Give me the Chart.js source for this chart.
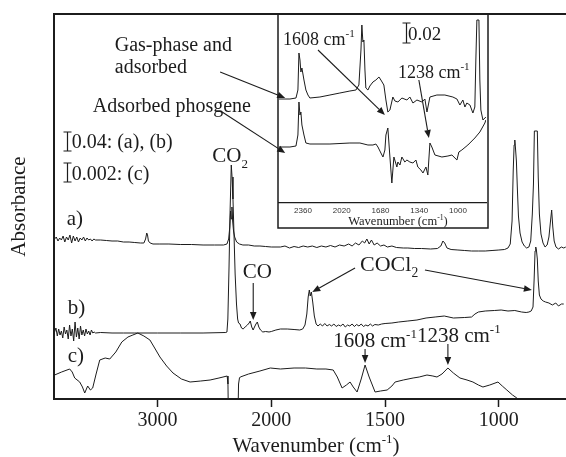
<!DOCTYPE html>
<html><head><meta charset="utf-8">
<script src="https://cdn.jsdelivr.net/npm/chart.js@4.4.0/dist/chart.umd.min.js"></script>
<style>
html,body{margin:0;padding:0;background:#fff;}
#wrap{position:relative;width:566px;height:457px;overflow:hidden;background:#fff;}
#main{position:absolute;left:0;top:0;z-index:2;}
#inset{position:absolute;left:277px;top:13px;z-index:1;}
</style></head><body>
<div id="wrap">
<canvas id="inset" width="212" height="216"></canvas>
<canvas id="main" width="566" height="457"></canvas>
</div>
<script>
// ---------------- DATA (wavenumber in cm-1, offset absorbance in arbitrary units) ----------------
const xTickValues = [3000, 2000, 1500, 1000];
const insetTickValues = [2360, 2020, 1680, 1340, 1000];

// (a) gas-phase + adsorbed
const wnA = [3905,3890,3875,3860,3845,3830,3815,3800,3785,3770,3755,3740,3725,3710,3695,3680,3665,3650,3635,3620,3605,3590,3575,3560,3545,
 3500,3450,3400,3350,3300,3250,3200,3150,3120,3105,3095,3088,3080,3065,3040,2980,2900,2800,2700,2600,2500,2420,2390,2375,2365,2358,2352,2346,2340,2332,2322,2305,2280,2250,2200,2150,2100,2050,2000,1960,
 1940,1920,1900,1880,1860,1840,1820,1800,1780,1760,1740,1720,1700,1680,1660,1645,1630,1615,1600,1590,1580,1570,1560,1548,1535,1520,1505,1490,1470,1450,1420,1400,1370,1340,1300,1270,1255,1246,1238,1228,1210,1180,1150,1120,1090,1060,1030,1000,975,960,950,942,937,933,930,927,923,919,914,907,898,888,878,868,860,853,848,844,831,827,822,815,806,797,788,780,774,768,763,757,749,738,725,715,706];
const absA = [160,162,158,161,159,163,157,162,159,164,156,163,158,162,157,161,159,162,158,161,159,160,158,160,159,
 159,158.5,158,158,157,157,156.5,156,156,160,166,164,158,156,155,155,155,154.5,154.5,154,154,154,155,160,172,188,180,192,178,168,162,157,155,154,154,153,153,152.5,152,152,
 153,151,152.5,151.5,153,152,153,151.5,153,152,153.5,152,154,153,155,153,156,154,158,156,160,155,159,154,156,153,154,152,153,151.5,151,151,150.5,150.5,150,150.5,153,158,156,151,149.5,149,148.5,148,148,148,148.5,149,149.5,151,155,178,228,254,259,251,238,212,183,166,157,153,151,152,158,185,215,268,268,222,185,165,156,152,154,162,176,189,172,158,152,150,152,151,152];

// (b) adsorbed phosgene
const wnB = [3905,3893,3881,3869,3857,3845,3833,3821,3809,3797,3785,3773,3761,3749,3737,3725,3713,3701,3689,3677,3665,3653,3641,3629,3617,3605,3593,3581,3569,3557,3545,
 3500,3400,3300,3200,3000,2800,2600,2400,2390,2382,2372,2362,2352,2345,2337,2328,2318,2306,2296,2288,2275,2262,2248,2230,2210,2195,2185,2172,2160,2148,2135,2123,2110,2095,2075,2050,2020,2000,1980,1960,1930,1900,1875,1862,1852,1844,1838,1833,1829,1824,1818,1811,1803,1795,
 1785,1775,1765,1755,1745,1735,1725,1715,1705,1695,1685,1675,1665,1655,1645,1635,1625,1615,1605,1595,1585,1575,1565,1555,1545,1530,1515,1500,1470,1440,1400,1360,1320,1280,1240,1200,1150,1120,1105,1090,1060,1020,990,960,930,900,880,868,858,850,845,841,838,835,831,827,822,815,805,795,780,765,750,738,725,715,706];
const absB = [67,71,63,70,64,68,61,72,65,69,60,74,63,70,58,77,62,71,60,73,64,69,63,70,65,68,64,69,66,67,66,
 66.5,66,66,66,66,66,66,66.5,67,80,130,190,234,222,200,165,125,95,80,76,75,71,70,72,74,76,78,72,69,72,75,77,72,69,67,67.5,67,67.5,69,70,70,69.5,69,70,74,85,102,109,103,107,97,83,75,73,
 75,73,75.5,73,74.5,73,75,72.5,74,73,75,72,74,73,75,72.5,74.5,73,75,72.5,74,73,75,73,74.5,74,75,75.5,76,77,78,79,81,82,83,81,81.5,82,85,87,88,88.5,89,88,88.5,87,86.5,87,88,92,120,148,152,149,140,118,104,100,98,97,96,94,96,93,95,95];

// (c) difference spectrum (x0.05 scale)
const wnC = [3905,3843,3772,3750,3728,3684,3660,3640,3614,3590,3570,3540,3508,3460,3420,3367,3314,3260,3217,3173,3120,3067,3020,2979,2920,2864,2790,2714,2620,2538,2460,2388,2381,2376,2295,2288,2280,2273,2200,2100,2009,1960,1900,1850,1800,1760,1728,1710,1689,1670,1654,1640,1623,1605,1588,1570,1544,1520,1491,1470,1456,1420,1377,1350,1316,1290,1272,1250,1224,1200,1171,1140,1114,1090,1070,1040,1004,985,965,940,921,912];
const absC = [24,27,30,27,21,17,12,6,13,9,11,25,39,41,40,47,57,62,64,66,63,59,50,42,33,26,20,17,18,19,21,23,15,-30,-30,15,21,22,25,28,31,30,31,31,30,30,29,22,11,14,17,12,7,20,34,22,7,8,9,13,17,19,21,22,24,23,22,25,31,26,21,19,17,14,12,14,17,13,9,4,1,-2];

// Inset: gas-phase + adsorbed, and adsorbed phosgene
const insetWnGas = [2570,2474,2421,2404,2395,2386,2378,2369,2351,2334,2316,2299,2211,2123,2036,1948,1895,1869,1851,1843,1834,1825,1816,1808,1790,1773,1746,1720,1693,1676,1650,1632,1615,1597,1571,1553,1527,1492,1448,1422,1395,1360,1316,1290,1272,1246,1185,1115,1045,1009,983,957,939,922,895,869,852,843,834,816,808,799,781,755];
const insetAbsGas = [104,104,105,113,150,143,131,135,123,113,108,105,106,108,110,112,113,118,153,178,161,163,133,115,113,117,121,123,126,123,118,103,91,93,106,102,101,105,103,106,100,103,101,104,91,106,108,108,106,104,98,103,96,100,98,90,96,143,183,183,123,93,83,86];
const insetWnAds = [2570,2474,2421,2404,2395,2386,2378,2369,2351,2334,2299,2123,1948,1860,1790,1746,1720,1702,1676,1658,1641,1632,1615,1597,1580,1562,1536,1527,1509,1492,1466,1448,1422,1395,1369,1352,1325,1307,1281,1264,1246,1229,1202,1141,1088,1053,1009,992,966,913,852,808,764,755];
const insetAbsAds = [56,56,57,68,101,88,91,78,68,60,59,59,60,60,58,58,59,56,50,46,53,68,75,46,20,46,36,41,38,46,41,43,41,40,43,36,33,30,36,28,60,56,48,46,47,48,43,51,53,58,65,71,80,83];

// ---------------- annotations (anchored in data coordinates) ----------------
const mainLabels = [
  {parts:[['a)',0]], wn:3799, ab:174, size:21},
  {parts:[['b)',0]], wn:3790, ab:85, size:21},
  {parts:[['c)',0]], wn:3790, ab:37, size:21},
  {parts:[['0.04: (a), (b)',0]], wn:3755, ab:251, size:20},
  {parts:[['0.002: (c)',0]], wn:3755, ab:219, size:20},
  {parts:[['Gas-phase and',0]], wn:3376, ab:348, size:20},
  {parts:[['adsorbed',0]], wn:3376, ab:326, size:20},
  {parts:[['Adsorbed phosgene',0]], wn:3570, ab:287, size:20},
  {parts:[['CO',0],['2',1]], wn:2362, ab:237, size:21, align:'center'},
  {parts:[['CO',0]], wn:2123, ab:121, size:21, align:'center'},
  {parts:[['COCl',0],['2',1]], wn:1610, ab:128, size:22},
  {parts:[['1608 cm',0],['-1',2]], wn:1728, ab:52, size:21},
  {parts:[['1238 cm',0],['-1',2]], wn:1360, ab:57, size:21}
];
const mainBars = [{wn:3799, top:267, bot:248}, {wn:3799, top:236, bot:217}];
const mainArrows = [
  {from:[2450,327], to:[1939,301]},
  {from:[2432,287], to:[1939,246]},
  {from:[2159,116], to:[2159,79]},
  {from:[1632,131], to:[1820,107]},
  {from:[1325,129], to:[855,109]},
  {from:[1588,50], to:[1588,36]},
  {from:[1224,55], to:[1224,34]}
];
const insetLabels = [
  {parts:[['1608 cm',0],['-1',2]], wn:2535, ab:158, size:18},
  {parts:[['0.02',0]], wn:1439, ab:163, size:19},
  {parts:[['1238 cm',0],['-1',2]], wn:1527, ab:125, size:18}
];
const insetBars = [{wn:1457, top:180, bot:160}];
const insetArrows = [{from:[2228,153], to:[1641,88]}, {from:[1343,123], to:[1255,65]}];

// ---------------- helpers ----------------
const SERIF = '"Liberation Serif", "Times New Roman", serif';
const INK = '#1c1c1c';
function pts(xs, ys){ return xs.map((x,i)=>({x:x, y:ys[i]})); }
function rich(ctx, parts, x, y, size, align){
  const segs = parts.map(([t,m]) => {
    const fs = m ? size*0.62 : size;
    ctx.font = fs + 'px ' + SERIF;
    return {t, m, fs, w: ctx.measureText(t).width};
  });
  const total = segs.reduce((s,g)=>s+g.w,0);
  let cx = align === 'center' ? x - total/2 : x;
  ctx.textAlign = 'left'; ctx.textBaseline = 'alphabetic';
  for (const g of segs){
    ctx.font = g.fs + 'px ' + SERIF;
    const dy = g.m === 1 ? size*0.28 : (g.m === 2 ? -size*0.42 : 0);
    ctx.fillText(g.t, cx, y + dy);
    cx += g.w;
  }
}
function arrow(ctx, x1, y1, x2, y2){
  const a = Math.atan2(y2-y1, x2-x1), L = 8, W = 3.3;
  const bx = x2 - L*Math.cos(a), by = y2 - L*Math.sin(a);
  ctx.beginPath(); ctx.moveTo(x1,y1); ctx.lineTo(bx,by); ctx.lineWidth = 1.1; ctx.stroke();
  ctx.beginPath(); ctx.moveTo(x2,y2);
  ctx.lineTo(bx + W*Math.sin(a), by - W*Math.cos(a));
  ctx.lineTo(bx - W*Math.sin(a), by + W*Math.cos(a));
  ctx.closePath(); ctx.fill();
}
function bar(ctx, x, yt, yb){
  ctx.lineWidth = 1.2; ctx.beginPath();
  ctx.moveTo(x, yt); ctx.lineTo(x, yb);
  ctx.moveTo(x-4, yt); ctx.lineTo(x+4, yt);
  ctx.moveTo(x-4, yb); ctx.lineTo(x+4, yb);
  ctx.stroke();
}
function drawNotes(chart, labels, bars, arrows){
  const ctx = chart.ctx, xs = chart.scales.x, ys = chart.scales.y;
  const X = v => xs.getPixelForValue(v), Y = v => ys.getPixelForValue(v);
  ctx.save(); ctx.fillStyle = INK; ctx.strokeStyle = INK;
  labels.forEach(l => rich(ctx, l.parts, X(l.wn), Y(l.ab), l.size, l.align));
  bars.forEach(b => bar(ctx, Math.round(X(b.wn))+0.5, Y(b.top), Y(b.bot)));
  arrows.forEach(a => arrow(ctx, X(a.from[0]), Y(a.from[1]), X(a.to[0]), Y(a.to[1])));
  ctx.restore();
}

// ---------------- FTIR axis with 2:1 scale change at 2000 cm-1 ----------------
const BREAK_WN = 2000, LOW_STRETCH = 2;
class BrokenLinearScale extends Chart.LinearScale {
  _warp(v){ return v <= BREAK_WN ? (v - this.min)*LOW_STRETCH : (BREAK_WN - this.min)*LOW_STRETCH + (v - BREAK_WN); }
  getPixelForValue(value){
    if (value === null || value === undefined || Number.isNaN(value)) return NaN;
    return this.getPixelForDecimal(this._warp(value) / this._warp(this.max));
  }
  getValueForPixel(pixel){
    const d = this.getDecimalForPixel(pixel) * this._warp(this.max);
    const tb = (BREAK_WN - this.min)*LOW_STRETCH;
    return d <= tb ? this.min + d/LOW_STRETCH : BREAK_WN + (d - tb);
  }
}
BrokenLinearScale.id = 'brokenLinear';
BrokenLinearScale.defaults = {};
Chart.register(BrokenLinearScale);

const lineStyle = {borderColor: INK, borderWidth: 1, pointRadius: 0, tension: 0, fill: false};

// ---------------- main chart ----------------
new Chart(document.getElementById('main'), {
  type: 'line',
  data: {datasets: [
    Object.assign({label:'a', data: pts(wnA, absA)}, lineStyle),
    Object.assign({label:'b', data: pts(wnB, absB)}, lineStyle),
    Object.assign({label:'c', data: pts(wnC, absC)}, lineStyle)
  ]},
  options: {
    responsive: false, animation: false, devicePixelRatio: 1,
    layout: {padding: {top: 14, right: 0, left: 0, bottom: 0}},
    plugins: {legend: {display: false}, tooltip: {enabled: false}},
    scales: {
      x: {
        type: 'brokenLinear', reverse: true, min: 705, max: 3910, bounds: 'data',
        afterFit: s => { s.height = 58; },
        afterBuildTicks: s => { s.ticks = xTickValues.map(v => ({value: v})); },
        grid: {drawOnChartArea: false, drawTicks: true, tickLength: 8, tickColor: INK, tickWidth: 1.5},
        border: {display: true, color: INK, width: 2},
        ticks: {font: {family: SERIF, size: 20}, color: INK, padding: 2, maxRotation: 0, autoSkip: false,
                callback: v => String(v)}
      },
      xTop: {
        type: 'linear', position: 'top', min: 705, max: 3910,
        afterFit: s => { s.height = 0; },
        grid: {display: false}, ticks: {display: false},
        border: {display: true, color: INK, width: 2}
      },
      y: {
        type: 'linear', min: 0, max: 385,
        afterFit: s => { s.width = 54; },
        grid: {display: false}, ticks: {display: false},
        border: {display: true, color: INK, width: 2}
      }
    }
  },
  plugins: [{
    id: 'mainNotes',
    afterDraw(chart){
      drawNotes(chart, mainLabels, mainBars, mainArrows);
      const ctx = chart.ctx, a = chart.chartArea;
      ctx.save(); ctx.fillStyle = INK;
      rich(ctx, [['Wavenumber (cm',0],['-1',2],[')',0]], 316, 452, 21, 'center');
      ctx.translate(25, (a.top + a.bottom)/2);
      ctx.rotate(-Math.PI/2);
      rich(ctx, [['Absorbance',0]], 0, 0, 21, 'center');
      ctx.restore();
    }
  }]
});

// ---------------- inset chart ----------------
new Chart(document.getElementById('inset'), {
  type: 'line',
  data: {datasets: [
    Object.assign({label:'gas+ads', data: pts(insetWnGas, insetAbsGas)}, lineStyle),
    Object.assign({label:'ads', data: pts(insetWnAds, insetAbsAds)}, lineStyle)
  ]},
  options: {
    responsive: false, animation: false, devicePixelRatio: 1,
    layout: {padding: {top: 2, left: 2, right: 3, bottom: 0}},
    plugins: {legend: {display: false}, tooltip: {enabled: false}},
    scales: {
      x: {
        type: 'linear', reverse: true, min: 754, max: 2570, bounds: 'data',
        afterFit: s => { s.height = 26; },
        afterBuildTicks: s => { s.ticks = insetTickValues.map(v => ({value: v})); },
        grid: {drawOnChartArea: false, drawTicks: false},
        border: {display: true, color: INK, width: 1.3},
        ticks: {font: {family: '"Liberation Sans", sans-serif', size: 8}, color: '#333', padding: 3, maxRotation: 0, autoSkip: false,
                callback: v => String(v)}
      },
      y: {type: 'linear', min: 0, max: 188, display: false}
    }
  },
  plugins: [{
    id: 'insetNotes',
    beforeDraw(chart){
      const ctx = chart.ctx; ctx.save(); ctx.fillStyle = '#fff';
      ctx.fillRect(0, 0, chart.width, chart.height); ctx.restore();
    },
    afterDraw(chart){
      drawNotes(chart, insetLabels, insetBars, insetArrows);
      const ctx = chart.ctx;
      ctx.save(); ctx.fillStyle = INK; ctx.strokeStyle = INK; ctx.lineWidth = 1.5;
      ctx.strokeRect(1, 1, 210, 214);
      rich(ctx, [['Wavenumber (cm',0],['-1',2],[')',0]], 121, 212, 12.5, 'center');
      ctx.restore();
    }
  }]
});
</script>
</body></html>
